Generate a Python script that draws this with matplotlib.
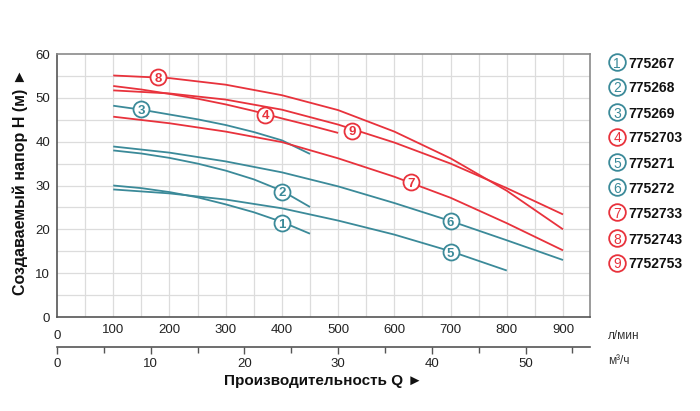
import numpy as np
import matplotlib
matplotlib.use("Agg")
import matplotlib.pyplot as plt

plt.rcParams['font.family'] = ['Liberation Sans', 'DejaVu Sans']

TEAL = '#3b8a99'
RED = '#e8323c'

# Curves: flow Q (l/min) and head H (m)
q1 = [100, 150, 200, 250, 300, 350, 400, 450]
h1 = [30.0, 29.4, 28.5, 27.3, 25.7, 23.9, 21.7, 19.0]
q2 = [100, 150, 200, 250, 300, 350, 400, 450]
h2 = [38.0, 37.3, 36.3, 35.0, 33.4, 31.4, 28.8, 25.1]
q3 = [100, 150, 200, 250, 300, 350, 400, 450]
h3 = [48.2, 47.3, 46.2, 45.1, 43.8, 42.2, 40.3, 37.2]
q4 = [100, 150, 200, 250, 300, 350, 400, 450, 500]
h4 = [52.7, 51.9, 50.9, 49.8, 48.5, 47.0, 45.3, 43.7, 42.0]
q5 = [100, 200, 300, 400, 500, 600, 700, 800]
h5 = [29.1, 28.2, 26.8, 24.8, 22.0, 18.8, 15.0, 10.6]
q6 = [100, 200, 300, 400, 500, 600, 700, 800, 900]
h6 = [38.9, 37.5, 35.5, 33.0, 29.8, 26.0, 21.9, 17.5, 13.0]
q7 = [100, 200, 300, 400, 500, 600, 700, 800, 900]
h7 = [45.7, 44.2, 42.3, 39.9, 36.2, 32.0, 27.2, 21.4, 15.2]
q8 = [100, 200, 300, 400, 500, 600, 700, 800, 900]
h8 = [55.1, 54.5, 53.0, 50.6, 47.2, 42.3, 36.2, 28.8, 20.0]
q9 = [100, 200, 300, 400, 500, 600, 700, 800, 900]
h9 = [51.7, 51.0, 49.6, 47.3, 43.9, 39.8, 35.0, 29.4, 23.4]

curves = [(q1, h1), (q2, h2), (q3, h3), (q4, h4), (q5, h5),
          (q6, h6), (q7, h7), (q8, h8), (q9, h9)]
colors = [TEAL, TEAL, TEAL, RED, TEAL, TEAL, RED, RED, RED]
numbers = ['1', '2', '3', '4', '5', '6', '7', '8', '9']
models = ['775267', '775268', '775269', '7752703', '775271',
          '775272', '7752733', '7752743', '7752753']
label_q = [400, 400, 150, 370, 700, 700, 630, 180, 525]
label_h = [21.4, 28.6, 47.4, 46.1, 14.8, 21.9, 30.7, 54.7, 42.5]

x_ticks = [100, 200, 300, 400, 500, 600, 700, 800, 900]
y_ticks = [0, 10, 20, 30, 40, 50, 60]
m3_ticks = [0, 10, 20, 30, 40, 50]

W, H = 700, 411
fig = plt.figure(figsize=(7.0, 4.11), dpi=100)
ax_l, ax_r, ax_t, ax_b = 57, 590, 54, 317
ax = fig.add_axes([ax_l / W, 1 - ax_b / H, (ax_r - ax_l) / W, (ax_b - ax_t) / H])
QMAX = 948
ax.set_xlim(0, QMAX)
ax.set_ylim(0, 60)

# grid
for gx in np.arange(50, QMAX, 50):
    ax.axvline(gx, color='#dcdcdc', lw=0.9, zorder=0)
for gy in np.arange(5, 60, 5):
    ax.axhline(gy, color='#dcdcdc', lw=0.9, zorder=0)

for s in ax.spines.values():
    s.set_color('#8a8a8a')
    s.set_linewidth(1.2)
ax.spines['left'].set_color('#555555')
ax.spines['bottom'].set_color('#555555')

ax.set_xticks(x_ticks)
ax.set_xticklabels([str(v) for v in x_ticks], fontsize=9.5, color='#222222')
ax.set_yticks(y_ticks)
ax.set_yticklabels([str(v) for v in y_ticks], fontsize=9.5, color='#222222')
ax.tick_params(length=0, pad=5)
ax.text(0, -2.9, '0', fontsize=9.5, color='#222222', ha='center', va='top')

for (q, h), c in zip(curves, colors):
    ax.plot(q, h, color=c, lw=1.3, zorder=2, solid_capstyle='butt')

for n, c, lq, lh in zip(numbers, colors, label_q, label_h):
    ax.plot([lq], [lh], marker='o', ms=11.5, mfc='white', mec=c, mew=1.3, zorder=4)
    ax.text(lq, lh, n, color=c, fontsize=9.5, fontweight='bold', ha='center',
            va='center_baseline', zorder=5)

# second axis (m3/h)
ax2 = fig.add_axes([ax_l / W, 1 - 347 / H, (ax_r - ax_l) / W, 0.0001])
ax2.set_xlim(0, QMAX * 0.06)
for s in ['left', 'right', 'top']:
    ax2.spines[s].set_visible(False)
ax2.spines['bottom'].set_color('#555555')
ax2.spines['bottom'].set_linewidth(1.2)
ax2.set_yticks([])
ax2.set_xticks(m3_ticks)
ax2.set_xticklabels([str(v) for v in m3_ticks], fontsize=9.5, color='#222222')
ax2.set_xticks(np.arange(5, 57, 10), minor=True)
ax2.tick_params(axis='x', which='major', direction='out', length=5, width=1, color='#555555', pad=3)
ax2.tick_params(axis='x', which='minor', direction='out', length=4, width=1, color='#555555')
ax2.patch.set_visible(False)

fig.text(608 / W, 1 - 336 / H, 'л/мин', fontsize=8.5, color='#333333', va='center', ha='left')
fig.text(608 / W, 1 - 361 / H, 'м³/ч', fontsize=8.5, color='#333333', va='center', ha='left')

fig.text(323 / W, 1 - 381 / H, 'Производительность Q ►', fontsize=11, fontweight='bold',
         ha='center', va='center', color='#111111')
fig.text(20 / W, 1 - 182 / H, 'Создаваемый напор H (м) ►', fontsize=11.5, fontweight='bold',
         ha='center', va='center', rotation=90, color='#111111')

# legend on the right
leg_y = [62, 87, 112, 137, 162, 187, 212, 238, 263]
for n, c, m, y in zip(numbers, colors, models, leg_y):
    fig.lines.append(plt.Line2D([617 / W], [1 - y / H], marker='o', ms=12, mfc='white',
                                mec=c, mew=1.3, transform=fig.transFigure))
    fig.text(617 / W, 1 - y / H, n, color=c, fontsize=10, ha='center',
             va='center_baseline')
    fig.text(628 / W, 1 - y / H, m, color='#111111', fontsize=10, fontweight='bold',
             ha='left', va='center_baseline')

fig.savefig('out.png', dpi=100, facecolor='white')
